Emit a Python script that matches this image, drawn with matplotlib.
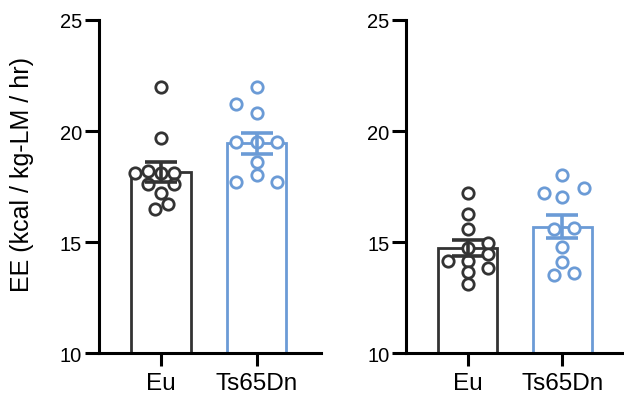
import matplotlib
matplotlib.use("Agg")
import matplotlib.pyplot as plt
import numpy as np

plt.rcParams['font.family'] = ['Liberation Sans', 'DejaVu Sans']

categories = ["Eu", "Ts65Dn"]

left_eu = [22.0, 19.7, 18.1, 18.2, 18.1, 18.1, 17.6, 17.6, 17.2, 16.7, 16.5]
left_eu_jit = [0, 0, -0.27, -0.13, 0, 0.14, -0.13, 0.14, 0, 0.07, -0.06]
left_ts = [22.0, 21.2, 20.8, 19.5, 19.5, 19.5, 18.6, 18.0, 17.7, 17.7]
left_ts_jit = [0, -0.21, 0, -0.21, 0, 0.21, 0, 0, -0.21, 0.21]

right_eu = [17.2, 16.25, 15.6, 14.95, 14.75, 14.45, 14.15, 14.15, 13.85, 13.65, 13.1]
right_eu_jit = [0, 0, 0, 0.21, 0, 0.21, -0.21, 0, 0.21, 0, 0]
right_ts = [18.0, 17.2, 17.45, 17.05, 15.6, 15.65, 14.8, 14.1, 13.5, 13.6]
right_ts_jit = [0, -0.19, 0.23, 0, -0.09, 0.12, 0, 0, -0.09, 0.12]

yticks = [10, 15, 20, 25]
ylabel = "EE (kcal / kg-LM / hr)"

dark = "#333333"
blue = "#6b9bd6"

fig = plt.figure(figsize=(6.24, 4.02), dpi=100)
ax1 = fig.add_axes([0.158, 0.1187, 0.356, 0.8293])
ax2 = fig.add_axes([0.651, 0.1187, 0.349, 0.8293])

def panel(ax, groups, jits, xmax):
    for i, (vals, jit, col) in enumerate(zip(groups, jits, [dark, blue])):
        v = np.array(vals)
        m = v.mean()
        sem = v.std(ddof=1) / np.sqrt(len(v))
        ax.bar(i, m - 10, bottom=10, width=0.62, facecolor="white",
               edgecolor=col, linewidth=2.0, zorder=2)
        ax.plot(i + np.array(jit), v, 'o', mfc="white", mec=col, ms=8.2,
                mew=2.0, zorder=3, clip_on=False)
        ax.errorbar(i, m, yerr=sem, color=col, capsize=11.5, elinewidth=2.6,
                    capthick=2.6, zorder=4)
    ax.set_xlim(-0.65, xmax)
    ax.set_ylim(10, 25)
    ax.set_yticks(yticks)
    ax.set_xticks([0, 1])
    ax.set_xticklabels(categories)
    for s in ["top", "right"]:
        ax.spines[s].set_visible(False)
    for s in ["left", "bottom"]:
        ax.spines[s].set_linewidth(2.2)
    ax.tick_params(axis="y", width=2.2, length=10, labelsize=14.5, pad=2,
                   colors="black")
    ax.tick_params(axis="x", width=2.2, length=9.5, labelsize=17.5, pad=4,
                   colors="black")

panel(ax1, [left_eu, left_ts], [left_eu_jit, left_ts_jit], 1.67)
panel(ax2, [right_eu, right_ts], [right_eu_jit, right_ts_jit], 1.65)
ax1.set_ylabel(ylabel, fontsize=18)
ax1.yaxis.set_label_coords(-0.29, 0.539)

fig.savefig("out.png", dpi=100)
